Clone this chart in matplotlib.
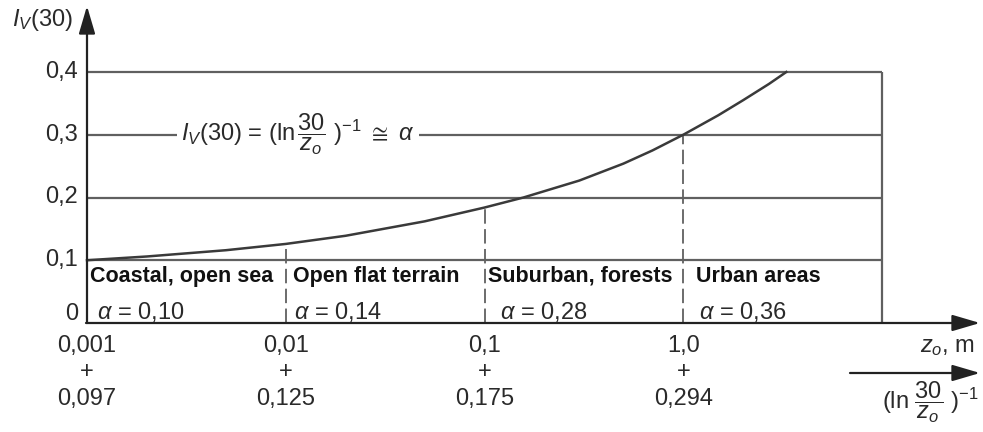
import numpy as np
import matplotlib
matplotlib.use("Agg")
import matplotlib.pyplot as plt
from matplotlib import transforms

plt.rcParams['font.family'] = ['Liberation Sans', 'DejaVu Sans']
plt.rcParams['mathtext.fontset'] = 'custom'
plt.rcParams['mathtext.rm'] = 'Liberation Sans'
plt.rcParams['mathtext.it'] = 'Liberation Sans:italic'
plt.rcParams['mathtext.bf'] = 'Liberation Sans:bold'
plt.rcParams['mathtext.fallback'] = 'stix'

# curve I_V(30) vs z0
z0_curve = [0.001, 0.002, 0.005, 0.01, 0.02, 0.05, 0.1, 0.157, 0.3, 0.5, 0.7, 1.0, 1.5, 2.0, 2.7, 3.3]
iv_curve = [0.100, 0.106, 0.116, 0.126, 0.139, 0.162, 0.184, 0.200, 0.227, 0.254, 0.275, 0.300,
            0.331, 0.355, 0.381, 0.400]

y_lines = [0.1, 0.2, 0.3, 0.4]
y_ticks = [0.015, 0.1, 0.2, 0.3, 0.4]
y_labels = ['0', '0,1', '0,2', '0,3', '0,4']

z0_ticks = [0.001, 0.01, 0.1, 1.0]
z0_labels = ['0,001', '0,01', '0,1', '1,0']
inv_ln_labels = ['0,097', '0,125', '0,175', '0,294']
drop_tops = [0.126, 0.184, 0.300]   # dashed lines at 0.01, 0.1, 1.0 up to the curve

terrain = ['Coastal, open sea', 'Open flat terrain', 'Suburban, forests', 'Urban areas']
alphas = ['0,10', '0,14', '0,28', '0,36']
label_dx = [3, 7, 4, 13]
alpha_dx = [10, 8, 16, 16]

W, H = 983, 432
grey = '#606060'
txt = '#2a2a2a'
fs = 17

fig = plt.figure(figsize=(W / 100, H / 100), dpi=100)
x0, x1, yb, yt = 87, 882, 323, 72   # frame in image pixels
ax = fig.add_axes([x0 / W, (H - yb) / H, (x1 - x0) / W, (yb - yt) / H])
ax.set_xscale('log')
ax.set_xlim(0.001, 10)
ax.set_ylim(0, 0.4)
ax.axis('off')

def fy(y):
    return (H - y) / H

def fx(x):
    return x / W

# grid box
ax.hlines(y_lines, 0.001, 10, color=grey, lw=1.6, clip_on=False)
ax.vlines(10, 0, 0.4, color=grey, lw=1.6, clip_on=False)
ax.vlines(z0_ticks[1:], 0, drop_tops, color=grey, lw=1.3, linestyles=(0, (8, 3)), clip_on=False)

# curve
ax.plot(z0_curve, iv_curve, color='#3a3a3a', lw=1.8, clip_on=False)

# axes arrows
arrow = dict(arrowstyle='-|>,head_length=0.85,head_width=0.25', mutation_scale=20,
             color='#222222', lw=1.6, shrinkA=0, shrinkB=0)
ax.annotate('', xy=(fx(87), fy(6)), xytext=(fx(87), fy(323)), xycoords='figure fraction',
            textcoords='figure fraction', arrowprops=arrow)
ax.annotate('', xy=(fx(980), fy(323)), xytext=(fx(86), fy(323)), xycoords='figure fraction',
            textcoords='figure fraction', arrowprops=arrow)
ax.annotate('', xy=(fx(980), fy(373)), xytext=(fx(850), fy(373)), xycoords='figure fraction',
            textcoords='figure fraction', arrowprops=arrow)

# y tick labels
ytr = transforms.blended_transform_factory(fig.transFigure, ax.transData)
for v, lab in zip(y_ticks, y_labels):
    ax.text(fx(78), v, lab, transform=ytr, ha='right', va='center', fontsize=fs, color=txt)

# x tick labels (two rows)
xtr = transforms.blended_transform_factory(ax.transData, fig.transFigure)
for z, a, b in zip(z0_ticks, z0_labels, inv_ln_labels):
    ax.text(z, fy(346), a, transform=xtr, ha='center', va='center', fontsize=fs, color=txt)
    ax.text(z, fy(372), '+', transform=xtr, ha='center', va='center', fontsize=fs, color=txt)
    ax.text(z, fy(399), b, transform=xtr, ha='center', va='center', fontsize=fs, color=txt)

# terrain labels
for z, name, a, dx, adx in zip(z0_ticks, terrain, alphas, label_dx, alpha_dx):
    ax.annotate(name, xy=(z, 0.0745), xytext=(dx, 0), textcoords='offset pixels',
                ha='left', va='center', fontsize=15.5, fontweight='bold', color='#111111')
    ax.annotate(r'$\alpha$ = ' + a, xy=(z, 0.017), xytext=(adx, 0), textcoords='offset pixels',
                ha='left', va='center', fontsize=fs, color=txt)

# equation on the 0.3 line
fig.text(fx(298), fy(134), r'$I_V$(30) = (ln$\,\dfrac{30}{z_o}$ )$^{-1}$ $\cong$ $\alpha$',
         ha='center', va='center', fontsize=fs, color=txt,
         bbox=dict(facecolor='white', edgecolor='none', pad=3))

# axis titles
fig.text(fx(42), fy(20), r'$I_V$(30)', ha='center', va='center', fontsize=fs, color=txt)
fig.text(fx(975), fy(347), r'$z_o$, m', ha='right', va='center', fontsize=fs, color=txt)
fig.text(fx(930), fy(402), r'(ln $\dfrac{30}{z_o}$ )$^{-1}$', ha='center', va='center',
         fontsize=fs, color=txt)

fig.savefig('out.png', dpi=100, facecolor='white')
